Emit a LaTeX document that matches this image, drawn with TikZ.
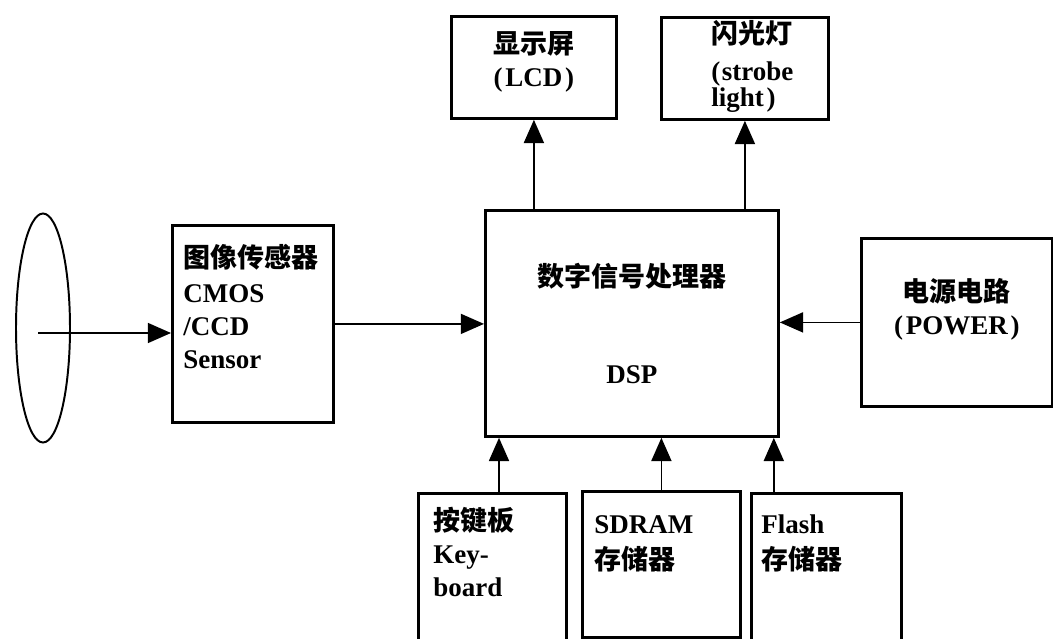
\documentclass[tikz,border=0pt]{standalone}
\usepackage{fontspec}
\setmainfont{Liberation Serif}
\newfontfamily\cjk{Noto Sans CJK SC}
\usetikzlibrary{arrows.meta,shapes.geometric}

\begin{document}
\begin{tikzpicture}[font=\fontsize{19.2}{23.5}\selectfont\bfseries, >={Triangle[length=0.58cm,width=0.5cm]},
      box/.style={draw, line width=2pt, anchor=north west},
      lens/.style={draw, ellipse, line width=1.4pt, minimum width=1.35cm, minimum height=5.725cm, inner sep=0pt},
      link/.style={->, line width=1.2pt}]
    \useasboundingbox (0,0) rectangle (26.325,15.95);
    \clip (0,0) rectangle (26.325,15.95);
    \node[lens] (lens) at (1.075,7.75) {};
    \node[box, inner xsep=0.275cm, inner ysep=0.475cm] (sensor) at (4.275,10.35) {\parbox[t][3.975cm][t]{3.475cm}{\raggedright {\cjk 图像传感器}\\[1.5pt] CMOS\\/CCD\\Sensor}};
    \node[box, inner sep=0pt, minimum width=7.325cm, minimum height=5.65cm, align=center] (dsp) at (12.1,10.725) {{\cjk 数字信号处理器}\\[45pt]DSP};
    \node[box, inner xsep=0.2cm, inner ysep=0.375cm] (lcd) at (11.25,15.575) {\parbox[t][1.8cm][t]{3.725cm}{\centering {\cjk 显示屏}\\(\kern2pt LCD\kern2pt)}};
    \node[box, inner xsep=0.2cm, inner ysep=0.075cm] (strobe) at (16.5,15.55) {\parbox[t][2.4cm][t]{3.775cm}{\leftskip=1.05cm {\cjk 闪光灯}\\[3pt](\kern1pt strobe\\[-5pt]light\kern2pt)}};
    \node[box, inner xsep=0.2cm, inner ysep=1.0cm] (power) at (21.5,10.025) {\parbox[t][2.2cm][t]{4.375cm}{\centering {\cjk 电源电路}\\(\kern2pt POWER\kern2pt)}};
    \node[box, inner xsep=0.375cm, inner ysep=0.35cm] (keyboard) at (10.425,3.65) {\parbox[t][3.25cm][t]{2.95cm}{\raggedright {\cjk 按键板}\\Key-\\board}};
    \node[box, inner xsep=0.3cm, inner ysep=0.6cm] (sdram) at (14.525,3.7) {\parbox[t][2.45cm][t]{3.35cm}{\raggedright SDRAM\\[2.5pt]{\cjk 存储器}}};
    \node[box, inner xsep=0.25cm, inner ysep=0.525cm] (flash) at (18.75,3.65) {\parbox[t][2.9cm][t]{3.25cm}{\raggedright Flash\\[2.5pt]{\cjk 存储器}}};
    \coordinate (axis) at (0.95,7.625);
    \coordinate (keyin) at ([xshift=0.375cm]dsp.south west);
    \coordinate (flashin) at ([xshift=-0.15cm]dsp.south east);
    \draw[link] (axis) -- (axis -| sensor.west);
    \draw[link] (sensor.east) -- (sensor.east -| dsp.west);
    \draw[link] (power.west) -- (power.west -| dsp.east);
    \draw[link] (lcd.south |- dsp.north) -- (lcd.south);
    \draw[link] (strobe.south |- dsp.north) -- (strobe.south);
    \draw[link] (keyin |- keyboard.north) -- (keyin);
    \draw[link] (sdram.north) -- (sdram.north |- dsp.south);
    \draw[link] (flashin |- flash.north) -- (flashin);
  \end{tikzpicture}
\end{document}
